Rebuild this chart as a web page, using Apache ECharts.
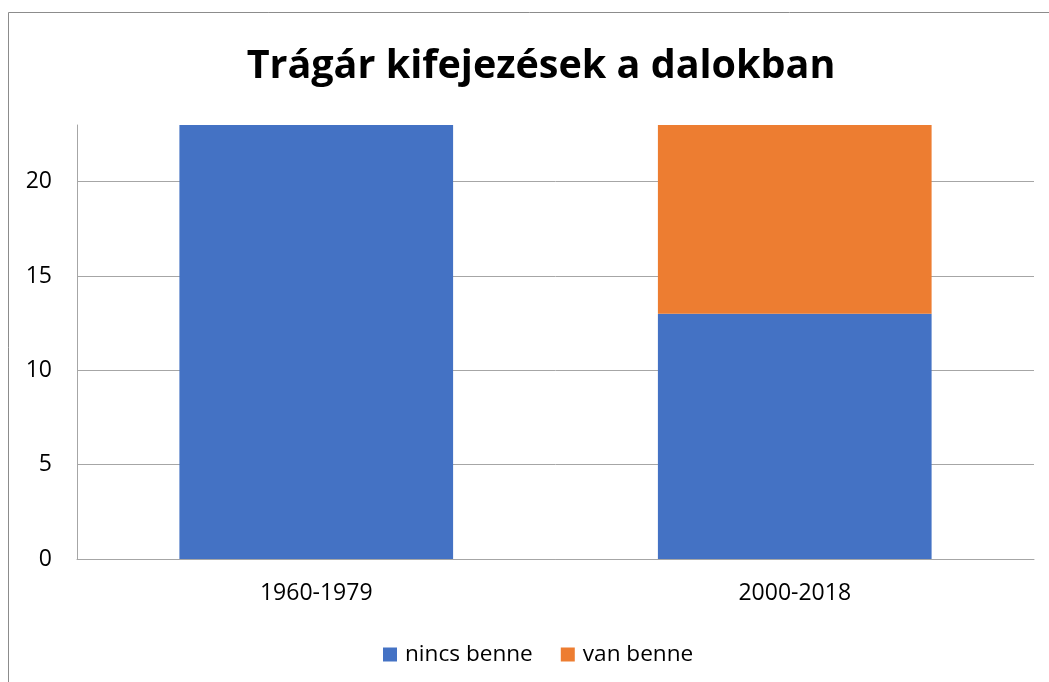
<!DOCTYPE html>
<html>
<head>
<meta charset="utf-8">
<script src="https://cdn.jsdelivr.net/npm/echarts@6/dist/echarts.min.js"></script>
<style>
  html, body { margin: 0; padding: 0; background: #fff; }
  #chart { width: 1049px; height: 682px; }
</style>
</head>
<body>
<div id="chart"></div>
<script>
// Song periods and the number of songs with / without swear words
const periods = ['1960-1979', '2000-2018'];
const nincsBenne = [23, 13];
const vanBenne = [0, 10];
const yTicks = [0, 5, 10, 15, 20];
const seriesNames = ['nincs benne', 'van benne'];

const font = 'Open Sans, Liberation Sans, sans-serif';

const chart = echarts.init(document.getElementById('chart'));
chart.setOption({
  animation: false,
  backgroundColor: '#fff',
  title: {
    text: 'Trágár kifejezések a dalokban',
    left: 536,
    top: 42,
    textAlign: 'center',
    textStyle: { fontFamily: font, fontWeight: 'bold', fontSize: 39.5, color: '#000' }
  },
  graphic: [{
    type: 'rect',
    shape: { x: 8.5, y: 12.5, width: 1200, height: 800 },
    style: { fill: 'none', stroke: '#8c8c8c', lineWidth: 1 },
    silent: true
  }],
  legend: {
    top: 638,
    left: 378,
    itemWidth: 14,
    itemHeight: 14,
    itemGap: 28,
    icon: 'rect',
    textStyle: { fontFamily: font, fontSize: 22.6, color: '#000', padding: [0, 0, 0, 3] },
    data: seriesNames
  },
  grid: { left: 77, right: 15, top: 125, bottom: 123 },
  xAxis: {
    type: 'category',
    data: periods,
    axisLine: { show: true, lineStyle: { color: '#a6a6a6', width: 1 } },
    axisTick: { show: false },
    axisLabel: { fontFamily: font, fontSize: 23, color: '#000', margin: 23 }
  },
  yAxis: {
    type: 'value',
    min: 0,
    max: 23,
    axisLine: { show: true, lineStyle: { color: '#a6a6a6', width: 1 } },
    axisTick: { show: false, customValues: yTicks },
    axisLabel: { fontFamily: font, fontSize: 23, color: '#000', margin: 25, customValues: yTicks },
    splitLine: { show: true, lineStyle: { color: '#a6a6a6', width: 1 } }
  },
  series: [
    {
      name: seriesNames[0],
      type: 'bar',
      stack: 'total',
      barWidth: '57.2%',
      itemStyle: { color: '#4472C4' },
      data: nincsBenne
    },
    {
      name: seriesNames[1],
      type: 'bar',
      stack: 'total',
      barWidth: '57.2%',
      itemStyle: { color: '#ED7D31' },
      data: vanBenne
    }
  ]
});
</script>
</body>
</html>
